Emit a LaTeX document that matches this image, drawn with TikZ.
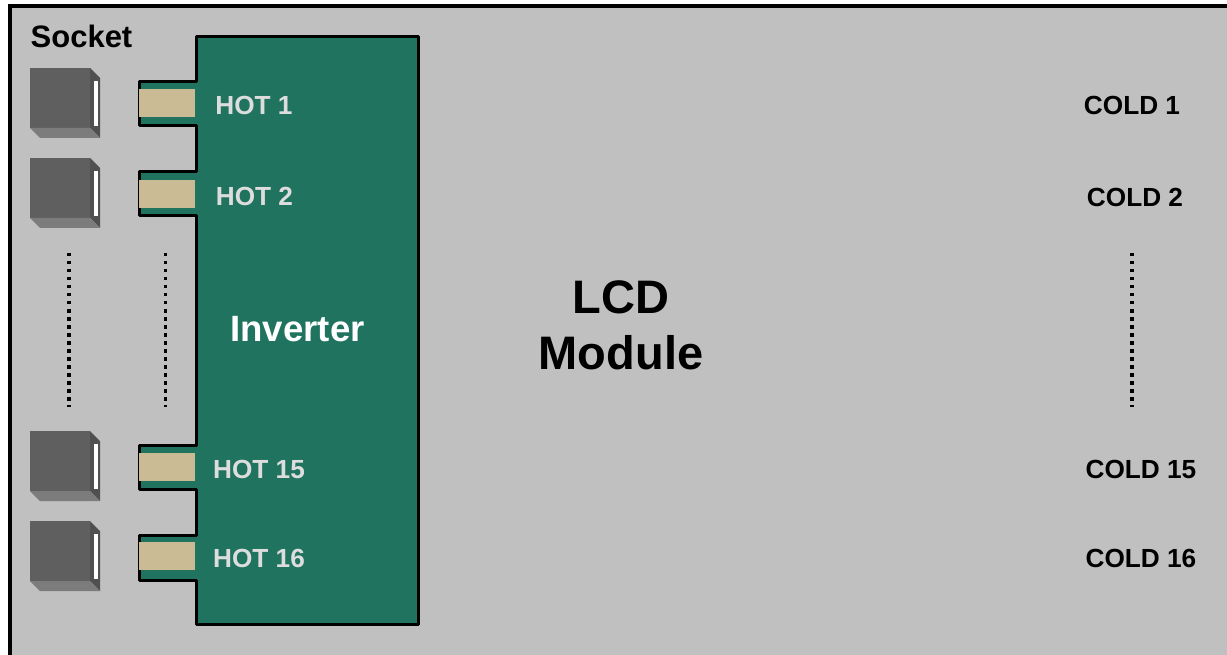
\documentclass[tikz,border=0pt]{standalone}
\usepackage{fontspec}
\setmainfont{Liberation Sans}
\tikzset{
 px/.style={x=1pt,y=-1pt},
 lbl/.style={font=\fontsize{#1}{#1}\selectfont\bfseries,inner sep=0pt,align=center},
 hot/.style={lbl=26.2,text=hotgrey},
 cold/.style={lbl=26.2,text=black},
 dots/.style={line width=3.5pt,dash pattern=on 3.5pt off 4.5pt,draw=black},
 tan/.style={fill=tanfill,draw=none},
}
\definecolor{bgrey}{HTML}{C0C0C0}
\definecolor{inv}{HTML}{20735F}
\definecolor{tanfill}{HTML}{CBBB94}
\definecolor{hotgrey}{HTML}{DDDDDD}
\definecolor{sfront}{HTML}{5F5F5F}
\definecolor{sside}{HTML}{505050}
\definecolor{sbot}{HTML}{7C7C7C}
\newcommand{\socket}[2]{%
 \fill[sfront] (#1,#2) rectangle ++(60,60);
 \fill[sside] (#1+60,#2) -- ++(10,10) -- ++(0,60) -- ++(-10,-10) -- cycle;
 \fill[sbot] (#1,#2+60) -- ++(60,0) -- ++(10,10) -- ++(-60,0) -- cycle;
 \fill[white] (#1+64,#2+13) rectangle ++(4,45);
}
\begin{document}
\begin{tikzpicture}[px]
\useasboundingbox (0,0) rectangle (1227,655);
\fill[white] (0,0) rectangle (1227,655);
\fill[bgrey] (10,6.5) rectangle (1227,655);
\draw[line width=4pt] (10,655) -- (10,6.5) -- (1227,6.5);
% inverter with tabs
\draw[fill=inv,line width=3pt,line join=round]
 (196,36.5) -- (418.5,36.5) -- (418.5,624.5) -- (196,624.5) -- (196,580)
 -- (139.5,580) -- (139.5,535) -- (196,535) -- (196,489)
 -- (139.5,489) -- (139.5,445) -- (196,445) -- (196,216)
 -- (139.5,216) -- (139.5,171.5) -- (196,171.5) -- (196,126)
 -- (139.5,126) -- (139.5,81.5) -- (196,81.5) -- cycle;
\fill[tan] (139,89) rectangle (195,117);
\fill[tan] (139,180) rectangle (195,208);
\fill[tan] (139,453) rectangle (195,481);
\fill[tan] (139,542) rectangle (195,570);
\socket{30}{68}
\socket{30}{158}
\socket{30}{431}
\socket{30}{521}
\coordinate (d1a) at (69,253); \coordinate (d1b) at (69,407);
\coordinate (d2a) at (165.5,253); \coordinate (d2b) at (165.5,407);
\coordinate (d3a) at (1132,253); \coordinate (d3b) at (1132,407);
\draw[dots] (d1a) -- (d1b);
\draw[dots] (d2a) -- (d2b);
\draw[dots] (d3a) -- (d3b);
\node[lbl=31] (socket) at (81.5,36) {Socket};
\node[hot] (h1) at (254,105) {HOT 1};
\node[hot] (h2) at (254.5,196) {HOT 2};
\node[hot] (h15) at (259,469) {HOT 15};
\node[hot] (h16) at (259,558) {HOT 16};
\node[lbl=36.6,text=white] (inverter) at (297.5,329) {Inverter};
\node[lbl=47] (lcd) at (621,297) {LCD};
\node[lbl=47] (module) at (621,353) {Module};
\node[cold] (c1) at (1132,105) {COLD 1};
\node[cold] (c2) at (1135,197) {COLD 2};
\node[cold] (c15) at (1141,469) {COLD 15};
\node[cold] (c16) at (1141,558) {COLD 16};
\end{tikzpicture}
\end{document}
